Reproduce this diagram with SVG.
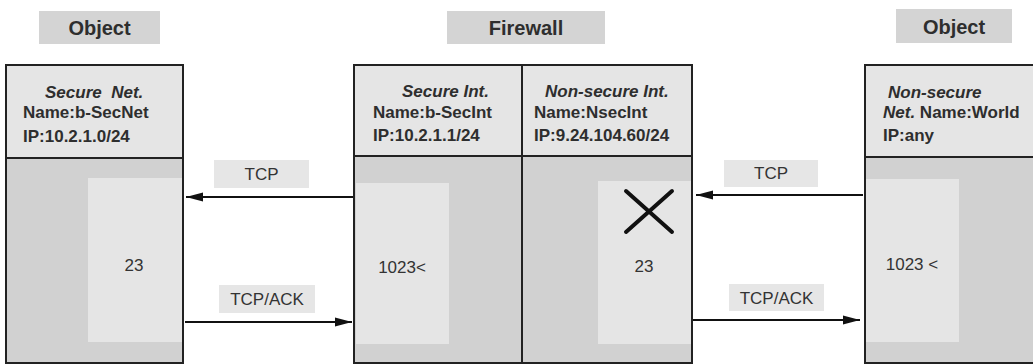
<svg xmlns="http://www.w3.org/2000/svg" width="1033" height="364" viewBox="0 0 1033 364">
<defs>
<style>
.title{fill:#d4d4d4}
.tt{font-family:"Liberation Sans",Arial,sans-serif;font-weight:bold;font-size:20px;fill:#2e2e2e;text-anchor:middle}
.hdr{fill:#e5e5e5;stroke:#222;stroke-width:2}
.low{fill:#d1d1d1;stroke:#222;stroke-width:2}
.inner{fill:#e5e5e5}
.b{font-family:"Liberation Sans",Arial,sans-serif;font-weight:bold;font-size:17px;fill:#2e2e2e}
.i{font-style:italic}
.r{font-family:"Liberation Sans",Arial,sans-serif;font-size:17px;fill:#333;text-anchor:middle}
.lab{fill:#e6e6e6}
.conn{stroke:#111;stroke-width:1.8;fill:none}
</style>
<marker id="ah" markerUnits="userSpaceOnUse" markerWidth="18" markerHeight="10" refX="17" refY="5" orient="auto">
<path d="M0,0.5 L17,5 L0,9.5 z" fill="#111"/>
</marker>
</defs>

<g id="title-object-left">
<rect class="title" x="39" y="11" width="121" height="33"/>
<text class="tt" x="99.5" y="35">Object</text>
</g>
<g id="title-firewall">
<rect class="title" x="447" y="11" width="158" height="33"/>
<text class="tt" x="526" y="35">Firewall</text>
</g>
<g id="title-object-right">
<rect class="title" x="896" y="9" width="116" height="34"/>
<text class="tt" x="954" y="34">Object</text>
</g>

<g id="secure-net">
<rect class="low" x="6" y="158" width="177" height="205"/>
<rect class="hdr" x="6" y="65" width="177" height="93"/>
<rect class="inner" x="88" y="178" width="94" height="164"/>
<text class="b i" x="45" y="98" xml:space="preserve">Secure  Net.</text>
<text class="b" x="23" y="118">Name:b-SecNet</text>
<text class="b" x="23" y="142">IP:10.2.1.0/24</text>
<text class="r" x="134" y="271">23</text>
</g>

<g id="firewall-secure-int">
<rect class="low" x="354" y="156" width="168" height="207"/>
<rect class="hdr" x="354" y="65" width="168" height="91"/>
<rect class="inner" x="356" y="183" width="93" height="161"/>
<text class="b i" x="402" y="97">Secure Int.</text>
<text class="b" x="373" y="118">Name:b-SecInt</text>
<text class="b" x="373" y="141">IP:10.2.1.1/24</text>
<text class="r" x="402" y="273">1023&lt;</text>
</g>

<g id="firewall-nonsecure-int">
<rect class="low" x="522" y="156" width="170" height="207"/>
<rect class="hdr" x="522" y="65" width="170" height="91"/>
<rect class="inner" x="598" y="181" width="93" height="163"/>
<path d="M626,191 L672,232 M672,191 L626,232" stroke="#111" stroke-width="4" stroke-linecap="round" fill="none"/>
<text class="b i" x="545" y="97">Non-secure Int.</text>
<text class="b" x="534" y="118">Name:NsecInt</text>
<text class="b" x="534" y="141">IP:9.24.104.60/24</text>
<text class="r" x="644" y="272">23</text>
</g>

<g id="nonsecure-net">
<rect class="low" x="865" y="157" width="180" height="206"/>
<rect class="hdr" x="865" y="65" width="180" height="92"/>
<rect class="inner" x="866" y="179" width="93" height="163"/>
<text class="b i" x="888" y="98">Non-secure</text>
<text class="b" x="883" y="118"><tspan class="i">Net.</tspan> Name:World</text>
<text class="b" x="883" y="141">IP:any</text>
<text class="r" x="912" y="270">1023 &lt;</text>
</g>

<g id="connectors">
<rect class="lab" x="214" y="160" width="95" height="28"/>
<text class="r" x="261.5" y="180">TCP</text>
<line class="conn" x1="353" y1="197" x2="186" y2="197" marker-end="url(#ah)"/>
<rect class="lab" x="219" y="285" width="96" height="28"/>
<text class="r" x="267" y="305">TCP/ACK</text>
<line class="conn" x1="185" y1="322" x2="352" y2="322" marker-end="url(#ah)"/>
<rect class="lab" x="724" y="160" width="94" height="27"/>
<text class="r" x="771" y="179">TCP</text>
<line class="conn" x1="863" y1="195" x2="696" y2="195" marker-end="url(#ah)"/>
<rect class="lab" x="729" y="284" width="95" height="27"/>
<text class="r" x="776.5" y="304">TCP/ACK</text>
<line class="conn" x1="693" y1="320" x2="860" y2="320" marker-end="url(#ah)"/>
</g>
</svg>
